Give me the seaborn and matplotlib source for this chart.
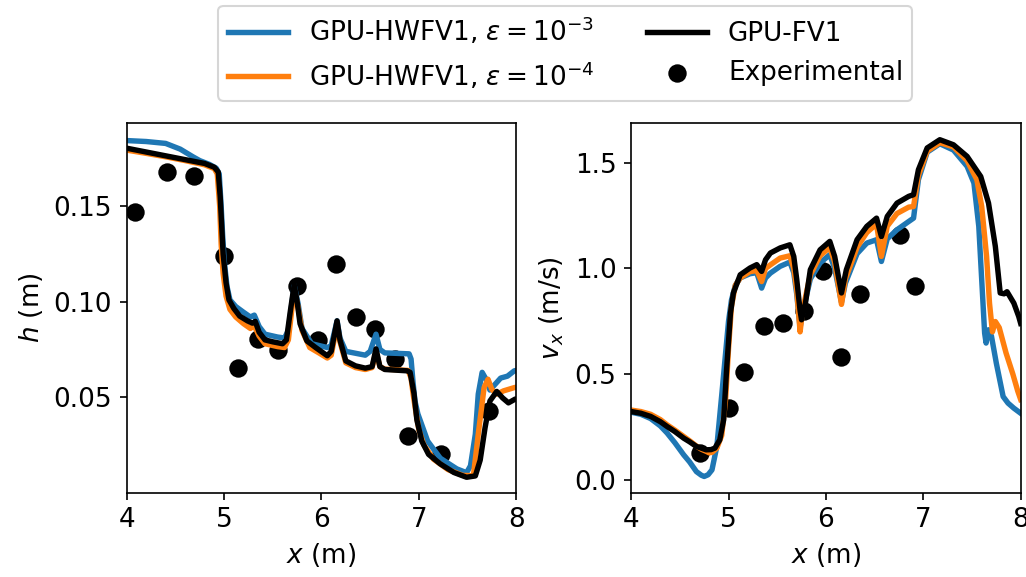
import numpy as np
import pandas as pd
import matplotlib
matplotlib.use("Agg")
import matplotlib.pyplot as plt
import seaborn as sns

# ---------------- data: water depth h ----------------
h_fv1_x = [4.00, 4.20, 4.40, 4.60, 4.80, 4.90, 4.94, 4.96, 4.975, 4.99, 5.02, 5.05, 5.10, 5.16, 5.24, 5.29,
           5.32, 5.36, 5.42, 5.50, 5.60, 5.64, 5.68, 5.72, 5.75, 5.78, 5.85, 5.94, 6.06, 6.10, 6.16, 6.19,
           6.25, 6.35, 6.45, 6.52, 6.56, 6.60, 6.65, 6.88, 6.91, 6.95, 6.98, 7.03, 7.10, 7.22, 7.36, 7.49,
           7.58, 7.63, 7.68, 7.73, 7.80, 7.86, 7.92, 7.99, 8.00]
h_fv1_y = [0.1805, 0.1785, 0.1765, 0.1745, 0.1725, 0.1705, 0.1680, 0.1550, 0.1400, 0.1250, 0.1100, 0.1010,
           0.0965, 0.0925, 0.0900, 0.0888, 0.0897, 0.0840, 0.0800, 0.0790, 0.0780, 0.0800, 0.0950, 0.1090,
           0.1000, 0.0885, 0.0795, 0.0760, 0.0717, 0.0740, 0.0900, 0.0800, 0.0690, 0.0664, 0.0652, 0.0660,
           0.0753, 0.0660, 0.0645, 0.0638, 0.0630, 0.0520, 0.0380, 0.0270, 0.0200, 0.0150, 0.0105, 0.0080,
           0.0087, 0.0170, 0.0340, 0.0480, 0.0530, 0.0496, 0.0470, 0.0490, 0.0490]

h_e3_x = [4.00, 4.20, 4.40, 4.55, 4.68, 4.75, 4.85, 4.92, 4.95, 4.97, 4.985, 5.00, 5.03, 5.06, 5.12, 5.20,
          5.27, 5.31, 5.36, 5.42, 5.55, 5.62, 5.66, 5.72, 5.76, 5.80, 5.90, 5.98, 6.06, 6.10, 6.16, 6.19,
          6.25, 6.35, 6.45, 6.50, 6.56, 6.60, 6.65, 6.90, 6.92, 6.94, 6.96, 6.99, 7.09, 7.22, 7.39, 7.49,
          7.53, 7.58, 7.61, 7.65, 7.69, 7.73, 7.77, 7.84, 7.91, 7.98, 8.00]
h_e3_y = [0.1845, 0.1840, 0.1830, 0.1800, 0.1760, 0.1740, 0.1720, 0.1700, 0.1670, 0.1500, 0.1350, 0.1220,
          0.1080, 0.1010, 0.0975, 0.0945, 0.0920, 0.0930, 0.0870, 0.0830, 0.0815, 0.0810, 0.0850, 0.1085,
          0.0990, 0.0860, 0.0780, 0.0770, 0.0760, 0.0770, 0.0900, 0.0810, 0.0740, 0.0730, 0.0720, 0.0740,
          0.0830, 0.0750, 0.0732, 0.0727, 0.0700, 0.0580, 0.0480, 0.0412, 0.0270, 0.0180, 0.0124, 0.0104,
          0.0140, 0.0306, 0.0516, 0.0630, 0.0594, 0.0537, 0.0560, 0.0600, 0.0610, 0.0638, 0.0640]

h_e4_x = [4.00, 4.20, 4.40, 4.60, 4.80, 4.90, 4.93, 4.955, 4.97, 4.99, 5.02, 5.06, 5.12, 5.20, 5.27, 5.31,
          5.36, 5.42, 5.55, 5.62, 5.66, 5.72, 5.76, 5.80, 5.88, 5.98, 6.06, 6.10, 6.16, 6.19, 6.25, 6.35,
          6.45, 6.52, 6.56, 6.60, 6.65, 6.89, 6.92, 6.94, 6.97, 7.00, 7.05, 7.15, 7.30, 7.45, 7.56, 7.61,
          7.67, 7.71, 7.75, 7.80, 7.87, 7.98, 8.00]
h_e4_y = [0.1795, 0.1778, 0.1760, 0.1740, 0.1718, 0.1698, 0.1670, 0.1500, 0.1300, 0.1150, 0.1030, 0.0960,
          0.0920, 0.0885, 0.0860, 0.0875, 0.0820, 0.0780, 0.0765, 0.0760, 0.0800, 0.1070, 0.0970, 0.0850,
          0.0760, 0.0730, 0.0705, 0.0720, 0.0880, 0.0790, 0.0680, 0.0655, 0.0645, 0.0655, 0.0740, 0.0660,
          0.0647, 0.0640, 0.0600, 0.0520, 0.0420, 0.0330, 0.0250, 0.0175, 0.0120, 0.0090, 0.0088, 0.0306,
          0.0550, 0.0594, 0.0540, 0.0516, 0.0533, 0.0550, 0.0552]

h_exp_x = [4.09, 4.41, 4.69, 5.00, 5.14, 5.35, 5.55, 5.75, 5.96, 6.15, 6.35, 6.55, 6.76, 6.89, 7.23, 7.72]
h_exp_y = [0.1472, 0.1682, 0.1661, 0.1238, 0.0655, 0.0804, 0.0747, 0.1084, 0.0799, 0.1198, 0.0918,
           0.0857, 0.0700, 0.0297, 0.0201, 0.0428]

# ---------------- data: velocity v_x ----------------
v_fv1_x = [4.00, 4.10, 4.20, 4.30, 4.37, 4.45, 4.54, 4.60, 4.67, 4.72, 4.77, 4.82, 4.86, 4.91, 4.95, 4.98,
           5.02, 5.05, 5.12, 5.22, 5.29, 5.34, 5.38, 5.43, 5.53, 5.63, 5.67, 5.70, 5.735, 5.75, 5.79, 5.84,
           5.94, 6.04, 6.09, 6.16, 6.21, 6.32, 6.42, 6.52, 6.57, 6.63, 6.73, 6.85, 6.90, 6.95, 7.04, 7.17,
           7.31, 7.45, 7.59, 7.67, 7.74, 7.79, 7.83, 7.86, 7.93, 7.98, 8.00]
v_fv1_y = [0.323, 0.315, 0.300, 0.275, 0.252, 0.228, 0.197, 0.180, 0.158, 0.150, 0.142, 0.143, 0.150, 0.189,
           0.284, 0.520, 0.789, 0.884, 0.970, 1.002, 1.018, 0.986, 1.041, 1.073, 1.097, 1.112, 1.057, 0.950,
           0.800, 0.757, 0.836, 0.994, 1.088, 1.128, 1.057, 0.884, 0.994, 1.136, 1.199, 1.238, 1.151, 1.246,
           1.309, 1.341, 1.349, 1.467, 1.570, 1.609, 1.585, 1.530, 1.435, 1.309, 1.104, 0.884, 0.880, 0.890,
           0.836, 0.773, 0.740]

v_e3_x = [4.00, 4.10, 4.20, 4.30, 4.37, 4.45, 4.54, 4.60, 4.67, 4.72, 4.75, 4.79, 4.83, 4.88, 4.93, 4.97,
          5.00, 5.03, 5.07, 5.12, 5.22, 5.29, 5.34, 5.38, 5.43, 5.53, 5.63, 5.67, 5.70, 5.735, 5.76, 5.84,
          5.94, 6.04, 6.09, 6.16, 6.20, 6.32, 6.42, 6.52, 6.57, 6.63, 6.73, 6.85, 6.90, 6.95, 7.04, 7.17,
          7.31, 7.45, 7.52, 7.57, 7.60, 7.63, 7.645, 7.67, 7.70, 7.75, 7.82, 7.87, 7.93, 8.00]
v_e3_y = [0.320, 0.310, 0.290, 0.255, 0.221, 0.175, 0.118, 0.085, 0.039, 0.022, 0.016, 0.024, 0.047, 0.158,
          0.400, 0.600, 0.750, 0.850, 0.920, 0.955, 0.975, 0.980, 0.907, 0.955, 0.978, 1.010, 1.030, 0.980,
          0.880, 0.720, 0.790, 0.950, 1.026, 1.065, 1.000, 0.840, 0.930, 1.070, 1.120, 1.136, 1.033, 1.140,
          1.183, 1.222, 1.238, 1.420, 1.550, 1.590, 1.560, 1.483, 1.404, 1.199, 0.946, 0.694, 0.647, 0.710,
          0.680, 0.552, 0.394, 0.363, 0.339, 0.315]

v_e4_x = [4.00, 4.10, 4.20, 4.30, 4.37, 4.45, 4.54, 4.60, 4.67, 4.72, 4.77, 4.80, 4.83, 4.88, 4.93, 4.97,
          5.00, 5.03, 5.07, 5.12, 5.22, 5.29, 5.34, 5.38, 5.43, 5.53, 5.63, 5.67, 5.70, 5.735, 5.76, 5.84,
          5.94, 6.04, 6.09, 6.16, 6.20, 6.32, 6.42, 6.52, 6.57, 6.63, 6.73, 6.85, 6.90, 6.95, 7.04, 7.17,
          7.31, 7.45, 7.55, 7.60, 7.65, 7.68, 7.71, 7.74, 7.78, 7.85, 7.92, 7.97, 8.00]
v_e4_y = [0.330, 0.323, 0.310, 0.285, 0.260, 0.235, 0.205, 0.185, 0.160, 0.145, 0.135, 0.128, 0.130, 0.150,
          0.210, 0.380, 0.620, 0.820, 0.920, 0.955, 0.985, 0.990, 0.938, 1.000, 1.017, 1.049, 1.060, 1.000,
          0.900, 0.700, 0.800, 0.970, 1.060, 1.100, 1.030, 0.830, 0.950, 1.100, 1.170, 1.210, 1.057, 1.200,
          1.260, 1.290, 1.293, 1.440, 1.555, 1.595, 1.575, 1.510, 1.420, 1.293, 1.057, 0.836, 0.700, 0.749,
          0.720, 0.600, 0.500, 0.420, 0.380]

v_exp_x = [4.71, 5.01, 5.16, 5.36, 5.56, 5.78, 5.97, 6.16, 6.35, 6.76, 6.91]
v_exp_y = [0.129, 0.339, 0.508, 0.729, 0.742, 0.800, 0.989, 0.579, 0.879, 1.156, 0.915]

labels = [r"GPU-HWFV1, $\varepsilon = 10^{-3}$", r"GPU-HWFV1, $\varepsilon = 10^{-4}$", "GPU-FV1", "Experimental"]
colors = ["#1f77b4", "#ff7f0e", "black"]

plt.rcParams["font.size"] = 12.6
plt.rcParams["font.family"] = ["DejaVu Sans"]

fig, (ax1, ax2) = plt.subplots(1, 2, figsize=(6.84, 3.8467), dpi=150)
fig.subplots_adjust(left=0.1235, right=0.9948, bottom=0.1464, top=0.7868, wspace=0.295)

def draw(ax, series, exp_x, exp_y):
    sns.scatterplot(x=exp_x, y=exp_y, ax=ax, color="black", s=78, linewidth=0, zorder=1, label=labels[3])
    for (xs, ys), c, lab in zip(series, colors, labels[:3]):
        sns.lineplot(x=xs, y=ys, ax=ax, color=c, lw=2.6, sort=False, estimator=None, label=lab, zorder=2)
    ax.get_legend().remove()

draw(ax1, [(h_e3_x, h_e3_y), (h_e4_x, h_e4_y), (h_fv1_x, h_fv1_y)], h_exp_x, h_exp_y)
draw(ax2, [(v_e3_x, v_e3_y), (v_e4_x, v_e4_y), (v_fv1_x, v_fv1_y)], v_exp_x, v_exp_y)

ax1.set_xlim(4, 8)
ax1.set_ylim(0.0, 0.1937)
ax1.set_yticks([0.05, 0.10, 0.15])
ax1.set_xticks([4, 5, 6, 7, 8])
ax1.set_xlabel(r"$x$ (m)")
ax1.set_ylabel(r"$h$ (m)")

ax2.set_xlim(4, 8)
ax2.set_ylim(-0.060, 1.688)
ax2.set_yticks([0.0, 0.5, 1.0, 1.5])
ax2.set_xticks([4, 5, 6, 7, 8])
ax2.set_xlabel(r"$x$ (m)")
ax2.set_ylabel(r"$v_x$ (m/s)")

handles, labs = ax1.get_legend_handles_labels()
order = [labs.index(l) for l in labels]
fig.legend([handles[i] for i in order], [labs[i] for i in order], ncol=2,
           loc="upper center", bbox_to_anchor=(0.551, 1.012), handlelength=2.3,
           labelspacing=0.5, borderpad=0.35)

fig.savefig("out.png", dpi=150)
